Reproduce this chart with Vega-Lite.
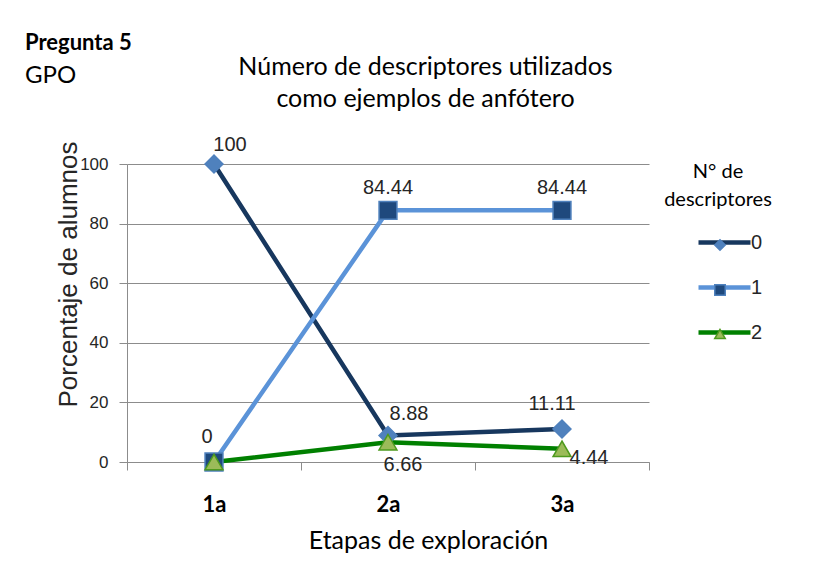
{
  "$schema": "https://vega.github.io/schema/vega-lite/v6.json",
  "width": 522,
  "height": 298,
  "autosize": {"type": "none"},
  "padding": {"left": 127, "top": 164, "right": 181, "bottom": 99},
  "background": "white",
  "config": {"view": {"stroke": null}},
  "title": {
    "text": "Pregunta 5",
    "subtitle": "GPO",
    "anchor": "start",
    "frame": "group",
    "dx": -102,
    "dy": 35,
    "offset": 0,
    "font": "Lato",
    "fontSize": 22,
    "fontWeight": "bold",
    "color": "#000000",
    "subtitleFont": "Lato",
    "subtitleFontSize": 24,
    "subtitleColor": "#000000",
    "subtitlePadding": 9
  },
  "data": {
    "values": [
      {"etapa": "1a", "serie": "0", "valor": 100},
      {"etapa": "2a", "serie": "0", "valor": 8.88},
      {"etapa": "3a", "serie": "0", "valor": 11.11},
      {"etapa": "1a", "serie": "1", "valor": 0},
      {"etapa": "2a", "serie": "1", "valor": 84.44},
      {"etapa": "3a", "serie": "1", "valor": 84.44},
      {"etapa": "1a", "serie": "2", "valor": 0},
      {"etapa": "2a", "serie": "2", "valor": 6.66},
      {"etapa": "3a", "serie": "2", "valor": 4.44}
    ]
  },
  "resolve": {"axis": {"x": "independent"}},
  "layer": [
    {
      "mark": {"type": "line", "strokeWidth": 4.5},
      "encoding": {
        "x": {
          "field": "etapa",
          "type": "ordinal",
          "scale": {"type": "band", "paddingInner": 0, "paddingOuter": 0},
          "axis": {
            "orient": "bottom",
            "title": "Etapas de exploración",
            "labelAngle": 0,
            "tickBand": "extent",
            "tickSize": 8,
            "tickColor": "#8C8C8C",
            "domainColor": "#8C8C8C",
            "grid": false,
            "labelFont": "Lato",
            "labelFontWeight": "bold",
            "labelFontSize": 22,
            "labelColor": "#000000",
            "labelPadding": 24,
            "titleFont": "Lato",
            "titleFontSize": 25,
            "titleFontWeight": "normal",
            "titleColor": "#000000",
            "titleX": 301,
            "titleY": 78,
            "titleAlign": "center",
            "titleBaseline": "middle"
          }
        },
        "y": {
          "field": "valor",
          "type": "quantitative",
          "scale": {"domain": [0, 100], "nice": false},
          "axis": {
            "title": "Porcentaje de alumnos",
            "values": [0, 20, 40, 60, 80, 100],
            "grid": true,
            "gridColor": "#8C8C8C",
            "domainColor": "#8C8C8C",
            "tickColor": "#8C8C8C",
            "tickSize": 8,
            "labelPadding": 11,
            "labelFont": "Liberation Sans",
            "labelFontSize": 17,
            "labelColor": "#262626",
            "titleFont": "Liberation Sans",
            "titleFontSize": 26,
            "titleFontWeight": "normal",
            "titleColor": "#262626",
            "titleX": -59,
            "titleY": 110,
            "titleAngle": -90,
            "titleAlign": "center",
            "titleBaseline": "middle"
          }
        },
        "color": {
          "field": "serie",
          "type": "nominal",
          "scale": {"domain": ["0", "1", "2"], "range": ["#17375E", "#5B93D8", "#008000"]},
          "legend": {
            "orient": "none",
            "legendX": 537,
            "legendY": -2,
            "padding": 0,
            "title": ["N° de", "descriptores"],
            "titleFont": "Lato",
            "titleFontSize": 20,
            "titleFontWeight": "normal",
            "titleColor": "#000000",
            "titleAnchor": "middle",
            "titleAlign": "center",
            "titleLineHeight": 28,
            "titlePadding": 4,
            "symbolType": "stroke",
            "symbolSize": 2704,
            "symbolStrokeWidth": 4.5,
            "symbolOffset": 22,
            "labelFont": "Liberation Sans",
            "labelFontSize": 20,
            "labelColor": "#262626",
            "labelOffset": -2,
            "rowPadding": 6
          }
        }
      }
    },
    {
      "mark": {"type": "point", "filled": true, "size": 320, "strokeWidth": 1.5, "opacity": 1},
      "encoding": {
        "x": {
          "field": "etapa",
          "type": "ordinal",
          "axis": {
            "orient": "top",
            "labels": false,
            "ticks": false,
            "domain": false,
            "grid": false,
            "title": ["Número de descriptores utilizados", "como ejemplos de anfótero"],
            "titleX": 298,
            "titleY": -110,
            "titleAlign": "center",
            "titleBaseline": "top",
            "titleFont": "Lato",
            "titleFontSize": 25,
            "titleFontWeight": "normal",
            "titleColor": "#000000",
            "titleLineHeight": 32
          }
        },
        "y": {"field": "valor", "type": "quantitative"},
        "fill": {
          "field": "serie",
          "type": "nominal",
          "scale": {"range": ["#4F81BD", "#1F497D", "#9BBB59"]},
          "legend": {
            "orient": "none",
            "legendX": 587,
            "legendY": 75,
            "padding": 0,
            "title": null,
            "labelOpacity": 0,
            "symbolSize": 110,
            "symbolStrokeWidth": 1.5,
            "rowPadding": 27
          }
        },
        "stroke": {
          "field": "serie",
          "type": "nominal",
          "scale": {"range": ["#4F81BD", "#4F81BD", "#4E9A1E"]}
        },
        "shape": {
          "field": "serie",
          "type": "nominal",
          "scale": {"range": ["diamond", "square", "triangle-up"]}
        }
      }
    },
    {
      "transform": [{"filter": "datum.serie == '0' && datum.etapa == '1a'"}],
      "mark": {"type": "text", "dx": 16, "dy": -19, "font": "Liberation Sans", "fontSize": 20, "fill": "#262626"},
      "encoding": {
        "x": {"field": "etapa", "type": "ordinal", "axis": null},
        "y": {"field": "valor", "type": "quantitative"},
        "text": {"field": "valor", "type": "quantitative"}
      }
    },
    {
      "transform": [{"filter": "datum.serie == '0' && datum.etapa == '2a'"}],
      "mark": {"type": "text", "dx": 21, "dy": -22, "font": "Liberation Sans", "fontSize": 20, "fill": "#262626"},
      "encoding": {
        "x": {"field": "etapa", "type": "ordinal", "axis": null},
        "y": {"field": "valor", "type": "quantitative"},
        "text": {"field": "valor", "type": "quantitative"}
      }
    },
    {
      "transform": [{"filter": "datum.serie == '0' && datum.etapa == '3a'"}],
      "mark": {"type": "text", "dx": -10, "dy": -25, "font": "Liberation Sans", "fontSize": 20, "fill": "#262626"},
      "encoding": {
        "x": {"field": "etapa", "type": "ordinal", "axis": null},
        "y": {"field": "valor", "type": "quantitative"},
        "text": {"field": "valor", "type": "quantitative"}
      }
    },
    {
      "transform": [{"filter": "datum.serie == '1' && datum.etapa == '1a'"}],
      "mark": {"type": "text", "dx": -7, "dy": -25, "font": "Liberation Sans", "fontSize": 20, "fill": "#262626"},
      "encoding": {
        "x": {"field": "etapa", "type": "ordinal", "axis": null},
        "y": {"field": "valor", "type": "quantitative"},
        "text": {"field": "valor", "type": "quantitative"}
      }
    },
    {
      "transform": [{"filter": "datum.serie == '1' && datum.etapa != '1a'"}],
      "mark": {"type": "text", "dx": 0, "dy": -22, "font": "Liberation Sans", "fontSize": 20, "fill": "#262626"},
      "encoding": {
        "x": {"field": "etapa", "type": "ordinal", "axis": null},
        "y": {"field": "valor", "type": "quantitative"},
        "text": {"field": "valor", "type": "quantitative"}
      }
    },
    {
      "transform": [{"filter": "datum.serie == '2' && datum.etapa == '2a'"}],
      "mark": {"type": "text", "dx": 15, "dy": 23, "font": "Liberation Sans", "fontSize": 20, "fill": "#262626"},
      "encoding": {
        "x": {"field": "etapa", "type": "ordinal", "axis": null},
        "y": {"field": "valor", "type": "quantitative"},
        "text": {"field": "valor", "type": "quantitative"}
      }
    },
    {
      "transform": [{"filter": "datum.serie == '2' && datum.etapa == '3a'"}],
      "mark": {"type": "text", "dx": 27, "dy": 9, "font": "Liberation Sans", "fontSize": 20, "fill": "#262626"},
      "encoding": {
        "x": {"field": "etapa", "type": "ordinal", "axis": null},
        "y": {"field": "valor", "type": "quantitative"},
        "text": {"field": "valor", "type": "quantitative"}
      }
    }
  ]
}
